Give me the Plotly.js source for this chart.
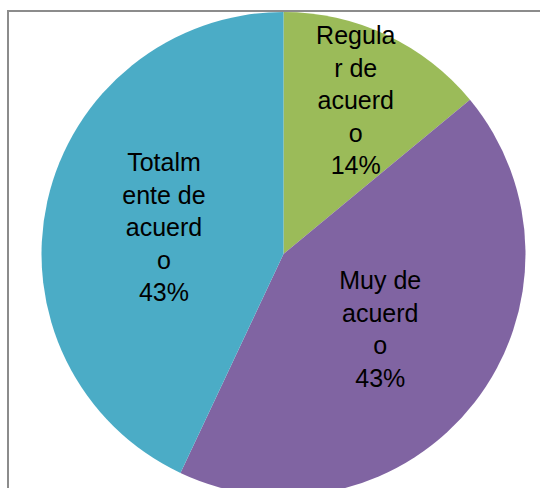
<!DOCTYPE html>
<html>
<head>
<meta charset="utf-8">
<script src="https://cdn.plot.ly/plotly-3.0.1.min.js"></script>
<style>
  html, body { margin: 0; padding: 0; background: #fff; overflow: hidden; }
  #wrap { position: relative; width: 540px; height: 488px; overflow: hidden; }
  #frame { position: absolute; left: 7px; top: 10px; width: 600px; height: 600px;
           border: 2px solid #8c8c8c; box-sizing: border-box; pointer-events: none; }
  #chart { position: absolute; left: 0; top: 0; width: 540px; height: 510px; }
</style>
</head>
<body>
<div id="wrap">
  <div id="frame"></div>
  <div id="chart"></div>
</div>
<script>
const labels = ['Regular de acuerdo', 'Muy de acuerdo', 'Totalmente de acuerdo'];
// etiquetas tal como aparecen cortadas en el gráfico
const wrapped = ['Regula<br>r de<br>acuerd<br>o', 'Muy de<br>acuerd<br>o', 'Totalm<br>ente de<br>acuerd<br>o'];
const values = [14, 43, 43];
const colors = ['#9BBB59', '#8064A2', '#4BACC6'];

const trace = {
  type: 'pie',
  labels: labels,
  values: values,
  customdata: wrapped,
  sort: false,
  direction: 'clockwise',
  rotation: 0,
  marker: { colors: colors, line: { width: 0 } },
  texttemplate: '%{customdata}<br>%{percent:.0%}',
  textposition: 'inside',
  insidetextorientation: 'horizontal',
  textfont: { family: 'Liberation Sans, Arial, sans-serif', size: 25, color: '#000' },
  hoverinfo: 'label+percent',
  showlegend: false
};

const layout = {
  width: 540,
  height: 510,
  margin: { t: 12, b: 14, l: 41, r: 14 },
  paper_bgcolor: 'rgba(0,0,0,0)',
  plot_bgcolor: 'rgba(0,0,0,0)',
  showlegend: false,
  uniformtext: { mode: 'show', minsize: 25 }
};

Plotly.newPlot('chart', [trace], layout, { displayModeBar: false, staticPlot: true });
</script>
</body>
</html>
